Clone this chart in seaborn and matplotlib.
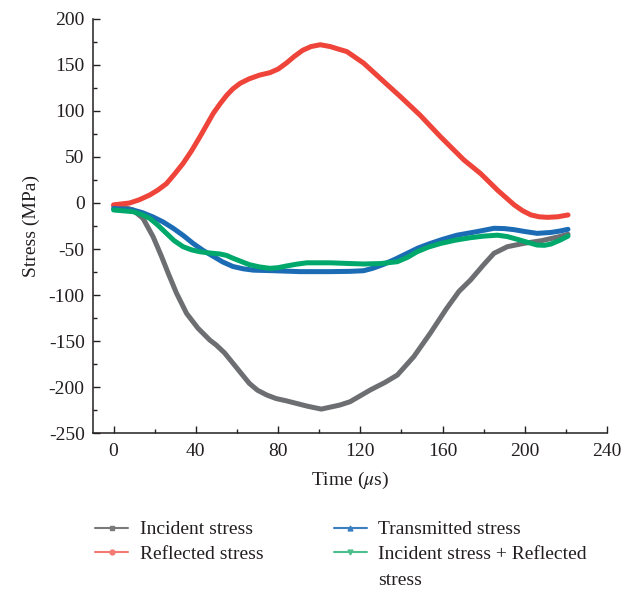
import numpy as np
import pandas as pd
import seaborn as sns
import matplotlib
matplotlib.use("Agg")
import matplotlib.pyplot as plt
from matplotlib.lines import Line2D
from matplotlib.ticker import MultipleLocator

# ---------------- data ----------------
t_incident = [0, 5, 9.4, 14.3, 19.2, 23.3, 26.5, 30.6, 35.5, 41, 46.8, 50, 54, 58,
              66, 70, 74.5, 79, 84, 94, 101, 110, 115, 125, 132, 138, 146, 154, 162,
              168, 173.6, 180, 185, 191.5, 199.7, 208, 216, 221]
s_incident = [-3, -4.5, -7.6, -16.7, -36.6, -58, -76, -98, -120, -136, -149, -154.5,
              -163, -174, -196, -203.5, -208.7, -212.5, -215, -220.7, -224, -219.6,
              -216, -203, -195, -187, -167, -141.6, -114.5, -96, -83.7, -67, -54.7,
              -47.5, -43.8, -41, -37, -34]

t_reflected = [0, 7.8, 12.5, 17.6, 21.5, 25.7, 29.5, 33.8, 38, 42, 48.5, 52, 55, 58,
               61.5, 66, 71, 76, 80, 84, 88, 92, 96, 100.5, 105.4, 109, 113.5, 121.6,
               131.4, 139.5, 149, 159, 170.4, 178.5, 186.7, 194.8, 199, 203, 207, 211,
               216, 221]
s_reflected = [-2, 0, 3.5, 8.7, 14, 21, 31, 43, 57, 72, 97.5, 108.5, 117, 124, 130,
               135, 139, 141.6, 145.5, 152, 159.5, 166, 170, 172, 170, 167.5, 164.5,
               152, 132, 115.6, 95.6, 72, 46.7, 32, 14, -2, -8.5, -13, -15, -15.6,
               -15, -13]

t_transmitted = [0, 9.4, 14, 19, 24, 29, 34, 38.7, 43.5, 48.5, 53, 58, 63, 68, 77.7,
                 90.7, 105, 115, 121.6, 126, 131, 137, 142.8, 148, 154, 160, 167, 177,
                 185, 190, 194.8, 200, 206, 212.7, 217, 221]
s_transmitted = [-6, -7.6, -10.5, -15, -20.5, -27.5, -35.5, -44, -51.5, -58, -64,
                 -69, -71.5, -73, -73.6, -74.6, -74.6, -74.3, -73.6, -71, -67, -61,
                 -54.7, -49, -44, -39.5, -35, -31, -27.5, -27.8, -29, -31, -33, -32,
                 -30.5, -28.6]

t_sum = [0, 9.4, 13.5, 17.6, 21.5, 25.7, 29.5, 33.8, 38, 42, 46.5, 51.7, 55, 58, 62,
         66, 71, 76, 80, 84, 89, 94, 105.4, 115, 121.6, 130, 138, 143, 147.6, 153,
         159, 166, 173.6, 180, 186.7, 191.5, 196.4, 201, 206, 209.5, 212.7, 217, 221]
s_sum = [-7.6, -9.4, -12.3, -16.7, -24, -33, -41, -47.5, -51, -53, -54.3, -55.4,
         -57, -60, -63.5, -67, -69.5, -71, -70.3, -68.5, -66.5, -65, -65, -65.8,
         -66.3, -65.8, -63.8, -59, -53, -48, -44, -40.5, -37.7, -36, -35, -36.5,
         -39.5, -42.5, -45.7, -46, -44.6, -40.5, -36]

series_names = ["Incident stress", "Reflected stress", "Transmitted stress",
                "Incident stress + Reflected stress"]
legend_labels = ["Incident stress", "Reflected stress", "Transmitted stress",
                 "Incident stress + Reflected"]
legend_wrap = "stress"
x_ticks = [0, 40, 80, 120, 160, 200, 240]
y_ticks = [-250, -200, -150, -100, -50, 0, 50, 100, 150, 200]

colors = ["#6d6e71", "#ee4439", "#1b6cb5", "#00a86b"]
legend_colors = ["#7a7a7c", "#f27a72", "#3a7fc0", "#4cc08c"]
markers = ["s", "o", "^", "v"]

frames = []
for name, t, s in zip(series_names,
                      [t_incident, t_reflected, t_transmitted, t_sum],
                      [s_incident, s_reflected, s_transmitted, s_sum]):
    frames.append(pd.DataFrame({"Time": t, "Stress": s, "Series": name}))
df = pd.concat(frames, ignore_index=True)

# ---------------- style ----------------
sns.set_style("ticks")
plt.rcParams["font.family"] = ["Liberation Serif", "DejaVu Serif"]
plt.rcParams["mathtext.fontset"] = "stix"
plt.rcParams["axes.unicode_minus"] = False
txt = "#231f20"

fig = plt.figure(figsize=(6.35, 5.91), dpi=100)
ax = fig.add_axes([0.1465, 0.2673, 0.8095, 0.7006])

sns.lineplot(data=df, x="Time", y="Stress", hue="Series", hue_order=series_names,
             palette=colors, estimator=None, sort=True, linewidth=3.6,
             legend=False, ax=ax)
for ln in ax.lines:
    ln.set_solid_capstyle("round")
    ln.set_solid_joinstyle("round")

ax.set_xlim(-10, 240)
ax.set_ylim(-250, 200)
ax.set_xticks(x_ticks)
ax.set_yticks(y_ticks)
ax.xaxis.set_minor_locator(MultipleLocator(20))
ax.yaxis.set_minor_locator(MultipleLocator(25))
sns.despine(ax=ax)
for sp in ["left", "bottom"]:
    ax.spines[sp].set_linewidth(1.1)
    ax.spines[sp].set_color(txt)
ax.tick_params(which="major", direction="in", length=5, width=1.0, color=txt,
               labelsize=14, labelcolor=txt)
ax.tick_params(axis="x", which="major", pad=7)
ax.tick_params(axis="y", which="major", pad=6)
ax.tick_params(which="minor", direction="in", length=3, width=1.0, color=txt)

ax.set_xlabel("Time ($\\mu$s)", fontsize=14, color=txt, labelpad=7)
ax.set_ylabel("Stress (MPa)", fontsize=14, color=txt, labelpad=6)

handles = [Line2D([0], [0], color=c, lw=1.5, marker=m, markersize=3.5)
           for c, m in zip(legend_colors, markers)]
leg = fig.legend(handles=handles, labels=legend_labels, ncol=2,
                 loc="upper left", bbox_to_anchor=(0.138, 0.132), frameon=False,
                 fontsize=14, handlelength=1.7, handletextpad=0.6,
                 columnspacing=3.6, labelspacing=0.36, labelcolor=txt,
                 borderaxespad=0)

# wrapped continuation of the last legend label
fig.canvas.draw()
r = fig.canvas.get_renderer()
lt = leg.get_texts()
b3 = lt[3].get_window_extent(r)
b0 = lt[0].get_window_extent(r)
b1 = lt[1].get_window_extent(r)
step = b0.y0 - b1.y0 + 1
fig.text(b3.x0 / fig.bbox.width, (b3.y0 - step) / fig.bbox.height, legend_wrap,
         fontsize=14, color=txt, ha="left", va="bottom")

fig.savefig("out.png", dpi=100)
